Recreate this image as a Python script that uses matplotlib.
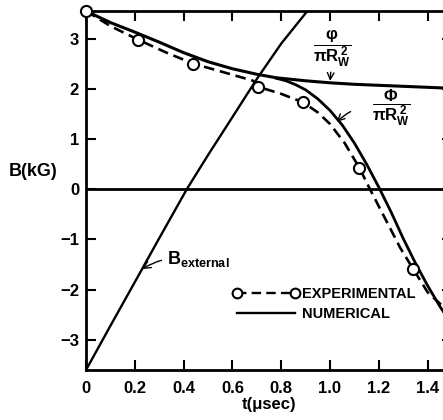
import numpy as np
import matplotlib.pyplot as plt
from matplotlib.lines import Line2D

plt.rcParams['font.family'] = ['Liberation Sans', 'DejaVu Sans']
plt.rcParams['font.weight'] = 'bold'
plt.rcParams['mathtext.fontset'] = 'custom'
plt.rcParams['mathtext.rm'] = 'Liberation Sans:bold'
plt.rcParams['mathtext.it'] = 'Liberation Sans:bold'
plt.rcParams['mathtext.bf'] = 'Liberation Sans:bold'

# Numerical, flux-conserving branch (phi / pi Rw^2)
t_phi = [0, 0.1, 0.2, 0.3, 0.4, 0.5, 0.6, 0.7, 0.78, 0.9, 1.0, 1.1, 1.2, 1.3, 1.4, 1.5]
b_phi = [3.55, 3.32, 3.13, 2.93, 2.72, 2.54, 2.4, 2.29, 2.22, 2.16, 2.12, 2.09, 2.07, 2.05, 2.03, 2.01]

# Numerical, Phi / pi Rw^2 branch
t_Phi = [0.78, 0.82, 0.86, 0.9, 0.95, 1.0, 1.05, 1.1, 1.15, 1.2, 1.25, 1.3, 1.35, 1.4, 1.45, 1.5]
b_Phi = [2.21, 2.16, 2.08, 1.98, 1.8, 1.57, 1.28, 0.92, 0.5, 0.04, -0.45, -0.98, -1.47, -1.92, -2.33, -2.7]

# Experimental points and dashed trace
t_exp = [0, 0.213, 0.44, 0.706, 0.89, 1.12, 1.341]
b_exp = [3.55, 2.98, 2.5, 2.04, 1.73, 0.43, -1.59]
t_dash = [0, 0.1, 0.213, 0.33, 0.44, 0.55, 0.65, 0.685, 0.706, 0.8, 0.89, 0.95,
          1.0, 1.06, 1.12, 1.164, 1.2, 1.25, 1.287, 1.341, 1.4, 1.46]
b_dash = [3.55, 3.25, 2.98, 2.72, 2.5, 2.35, 2.21, 2.16, 2.04, 1.9, 1.73, 1.53,
          1.3, 0.92, 0.43, 0.0, -0.34, -0.81, -1.16, -1.59, -2.05, -2.32]

# External field
t_ext = [0, 0.1, 0.2, 0.295, 0.413, 0.5, 0.59, 0.702, 0.8, 0.904]
b_ext = [-3.6, -2.72, -1.85, -1.02, 0, 0.68, 1.36, 2.21, 2.9, 3.53]

xticks = [0, 0.2, 0.4, 0.6, 0.8, 1.0, 1.2, 1.4]
xticklabels = ['0', '0.2', '0.4', '0.6', '0.8', '1.0', '1.2', '1.4']
yticks = [-3, -2, -1, 0, 1, 2, 3]
yticklabels = ['\u22123', '\u22122', '\u22121', '0', '1', '2', '3']

fig = plt.figure(figsize=(4.43, 4.20), dpi=100)
ax = fig.add_axes([86 / 443, 50 / 420, 366 / 443, 359 / 420])

ax.axhline(0, color='black', lw=2)
ax.plot(t_ext, b_ext, color='black', lw=1.7)
ax.plot(t_phi, b_phi, color='black', lw=2.2)
ax.plot(t_Phi, b_Phi, color='black', lw=2.0)
ax.plot(t_dash, b_dash, color='black', lw=1.9, dashes=(4, 2.2))
ax.plot(t_exp, b_exp, 'o', ms=8, mfc='white', mec='black', mew=1.5, ls='none',
        clip_on=False, zorder=5)

ax.set_xlim(0, 1.5)
ax.set_ylim(-3.6, 3.55)
ax.set_xticks(xticks)
ax.set_xticklabels(xticklabels)
ax.set_yticks(yticks)
ax.set_yticklabels(yticklabels)
ax.tick_params(direction='in', length=7, width=1.5, labelsize=12, pad=5,
               top=True, right=True)
ax.tick_params(axis='x', pad=8)
for s in ax.spines.values():
    s.set_linewidth(2)

ax.set_xlabel('t(\u03bcsec)', fontsize=12, fontweight='bold', labelpad=1)
ax.set_ylabel('B(kG)', fontsize=13, fontweight='bold', rotation=0)
ax.yaxis.set_label_coords(-0.145, 0.53)

# annotations
ax.annotate(r'$\dfrac{\varphi}{\pi R_W^{\,2}}$', xy=(1.0, 2.13), xytext=(1.01, 2.8),
            ha='center', va='center', fontsize=12,
            arrowprops=dict(arrowstyle='->', lw=1, color='black', shrinkA=0, shrinkB=1))
ax.annotate(r'$\dfrac{\Phi}{\pi R_W^{\,2}}$', xy=(1.02, 1.3), xytext=(1.25, 1.62),
            ha='center', va='center', fontsize=12,
            arrowprops=dict(arrowstyle='->', lw=1, color='black', shrinkA=14,
                            connectionstyle='arc3,rad=0.3'))
ax.annotate(r'B$_{\rm external}$', xy=(0.22, -1.62), xytext=(0.46, -1.38),
            ha='center', va='center', fontsize=13,
            arrowprops=dict(arrowstyle='->', lw=1, color='black', shrinkA=2,
                            connectionstyle='arc3,rad=0.2'))

handles = [Line2D([], [], color='black', lw=1.7, dashes=(4, 2.2), marker='o', ms=7,
                  mfc='white', mec='black', mew=1.5),
           Line2D([], [], color='black', lw=1.7)]
ax.legend(handles, ['EXPERIMENTAL', 'NUMERICAL'], loc='upper left',
          bbox_to_anchor=(0.365, 0.268), frameon=False, numpoints=2,
          handlelength=4.6, handletextpad=0.15, labelspacing=0.45,
          prop={'size': 10.5, 'weight': 'bold'})

fig.savefig('out.png', dpi=100)
